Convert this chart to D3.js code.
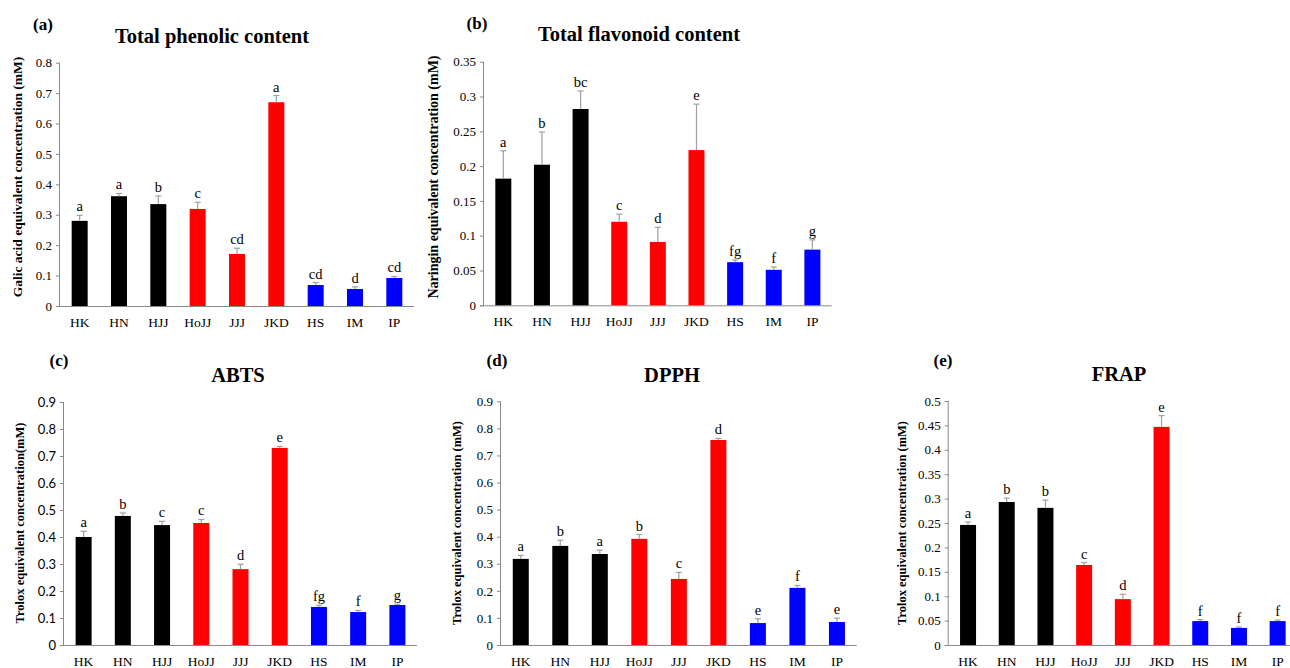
<!DOCTYPE html>
<html>
<head>
<meta charset="utf-8">
<script src="https://cdn.jsdelivr.net/npm/d3@7"></script>
<style>
  body { margin: 0; background: #fff; }
  svg text { font-family: "Liberation Serif", "Times New Roman", serif; fill: #000; }
</style>
</head>
<body>
<div id="main"></div>
<script>
// categories and bar colours
const categories = ["HK", "HN", "HJJ", "HoJJ", "JJJ", "JKD", "HS", "IM", "IP"];
const barColors = ["#000000", "#000000", "#000000", "#ff0000", "#ff0000", "#ff0000", "#0000ff", "#0000ff", "#0000ff"];

// (a) total phenolic
const phenolicMeans = [0.280, 0.361, 0.335, 0.319, 0.171, 0.670, 0.069, 0.056, 0.092];
const phenolicErr = [0.018, 0.009, 0.027, 0.022, 0.019, 0.022, 0.008, 0.007, 0.005];
const phenolicLetters = ["a", "a", "b", "c", "cd", "a", "cd", "d", "cd"];
const phenolicTicks = [0, 0.1, 0.2, 0.3, 0.4, 0.5, 0.6, 0.7, 0.8];

// (b) total flavonoid
const flavonoidMeans = [0.182, 0.202, 0.282, 0.120, 0.091, 0.223, 0.062, 0.051, 0.080];
const flavonoidErr = [0.040, 0.047, 0.026, 0.011, 0.021, 0.066, 0.003, 0.004, 0.014];
const flavonoidLetters = ["a", "b", "bc", "c", "d", "e", "fg", "f", "g"];
const flavonoidTicks = [0, 0.05, 0.1, 0.15, 0.2, 0.25, 0.3, 0.35];

// (c) ABTS
const abtsMeans = [0.400, 0.478, 0.444, 0.452, 0.281, 0.730, 0.141, 0.122, 0.148];
const abtsErr = [0.021, 0.011, 0.014, 0.013, 0.018, 0.006, 0.006, 0.006, 0.003];
const abtsLetters = ["a", "b", "c", "c", "d", "e", "fg", "f", "g"];
const abtsTicks = [0, 0.1, 0.2, 0.3, 0.4, 0.5, 0.6, 0.7, 0.8, 0.9];

// (d) DPPH
const dpphMeans = [0.318, 0.366, 0.336, 0.392, 0.244, 0.757, 0.081, 0.211, 0.085];
const dpphErr = [0.013, 0.021, 0.014, 0.016, 0.024, 0.006, 0.016, 0.009, 0.014];
const dpphLetters = ["a", "b", "a", "b", "c", "d", "e", "f", "e"];
const dpphTicks = [0, 0.1, 0.2, 0.3, 0.4, 0.5, 0.6, 0.7, 0.8, 0.9];

// (e) FRAP
const frapMeans = [0.246, 0.293, 0.281, 0.164, 0.094, 0.447, 0.049, 0.035, 0.049];
const frapErr = [0.006, 0.008, 0.016, 0.005, 0.010, 0.023, 0.003, 0.002, 0.002];
const frapLetters = ["a", "b", "b", "c", "d", "e", "f", "f", "f"];
const frapTicks = [0, 0.05, 0.1, 0.15, 0.2, 0.25, 0.3, 0.35, 0.4, 0.45, 0.5];

const serif = "'Liberation Serif', 'Times New Roman', serif";

const svg = d3.select("#main").append("svg")
    .attr("width", 1290)
    .attr("height", 668);

function drawPanel(p) {
    const g = svg.append("g");
    const x = d3.scaleBand().domain(categories).range([p.x0, p.x1]).padding(0);
    const y = d3.scaleLinear().domain([0, p.max]).range([p.y0, p.yTop]);
    const barW = 16;

    // y axis
    const yAxis = g.append("g")
        .attr("transform", `translate(${p.x0},0)`)
        .call(d3.axisLeft(y).tickValues(p.ticks).tickSize(4).tickPadding(4).tickFormat(d3.format("")));
    yAxis.select(".domain").attr("stroke", "#8a8a8a").attr("d", `M-0.5,${p.yTop}V${p.y0}`);
    yAxis.selectAll(".tick line").attr("stroke", "#8a8a8a");
    yAxis.selectAll(".tick text")
        .style("font-family", p.sansTicks ? "Lato, 'Liberation Sans', sans-serif" : serif)
        .style("font-size", "13px");

    // x axis line and labels
    const xAxis = g.append("g")
        .attr("transform", `translate(0,${p.y0})`)
        .call(d3.axisBottom(x).tickSize(0).tickPadding(11));
    xAxis.select(".domain").attr("stroke", "#8a8a8a").attr("d", `M${p.x0 - 4},0.5H${p.x1}`);
    xAxis.selectAll(".tick text").style("font-family", serif).style("font-size", "13.5px");

    // bars
    g.selectAll("rect.bar")
        .data(p.means)
        .join("rect")
        .attr("class", "bar")
        .attr("x", (d, i) => x(categories[i]) + x.bandwidth() / 2 - barW / 2)
        .attr("y", d => y(d))
        .attr("width", barW)
        .attr("height", d => p.y0 - y(d))
        .attr("fill", (d, i) => barColors[i]);

    // error bars (upper only)
    const eb = g.selectAll("g.err")
        .data(p.means)
        .join("g")
        .attr("class", "err")
        .attr("transform", (d, i) => `translate(${x(categories[i]) + x.bandwidth() / 2},0)`);
    eb.append("line")
        .attr("y1", d => y(d))
        .attr("y2", (d, i) => y(d + p.err[i]))
        .attr("stroke", "#a0a0a0").attr("stroke-width", 1.2);
    eb.append("line")
        .attr("x1", -3).attr("x2", 3)
        .attr("y1", (d, i) => y(d + p.err[i]))
        .attr("y2", (d, i) => y(d + p.err[i]))
        .attr("stroke", "#a0a0a0").attr("stroke-width", 1.2);

    // significance letters
    g.selectAll("text.letter")
        .data(p.means)
        .join("text")
        .attr("class", "letter")
        .attr("x", (d, i) => x(categories[i]) + x.bandwidth() / 2)
        .attr("y", (d, i) => y(d + p.err[i]) - 4)
        .attr("text-anchor", "middle")
        .style("font-size", "14.5px")
        .text((d, i) => p.letters[i]);

    // titles
    g.append("text")
        .attr("x", p.titleX).attr("y", p.titleY)
        .attr("text-anchor", "middle")
        .style("font-size", "20.5px").style("font-weight", "bold")
        .text(p.title);
    g.append("text")
        .attr("x", p.tagX).attr("y", p.tagY)
        .attr("text-anchor", "middle")
        .style("font-size", "17px").style("font-weight", "bold")
        .text(p.tag);

    // y label
    g.append("text")
        .attr("transform", `translate(${p.labX},${p.labY}) rotate(-90)`)
        .attr("text-anchor", "middle")
        .attr("dy", "0.35em")
        .style("font-family", serif)
        .style("font-size", p.labSize + "px").style("font-weight", "bold")
        .text(p.ylabel);
}

drawPanel({
    tag: "(a)", tagX: 43, tagY: 30, title: "Total phenolic content", titleX: 212, titleY: 43,
    ylabel: "Galic acid equivalent concentration (mM)", labX: 17, labY: 177, labSize: 13.5,
    x0: 60, x1: 414, y0: 306, yTop: 62.7, max: 0.8, ticks: phenolicTicks,
    means: phenolicMeans, err: phenolicErr, letters: phenolicLetters
});
drawPanel({
    tag: "(b)", tagX: 477, tagY: 29, title: "Total flavonoid content", titleX: 639, titleY: 41,
    ylabel: "Naringin equivalent concentration (mM)", labX: 433, labY: 177, labSize: 14,
    x0: 484, x1: 831.7, y0: 305.3, yTop: 61.7, max: 0.35, ticks: flavonoidTicks,
    means: flavonoidMeans, err: flavonoidErr, letters: flavonoidLetters
});
drawPanel({
    tag: "(c)", tagX: 59, tagY: 366, title: "ABTS", titleX: 238, titleY: 382,
    ylabel: "Trolox equivalent concentration(mM)", labX: 20, labY: 523, labSize: 12.5,
    x0: 64, x1: 417, y0: 645, yTop: 402, max: 0.9, ticks: abtsTicks, sansTicks: true,
    means: abtsMeans, err: abtsErr, letters: abtsLetters
});
drawPanel({
    tag: "(d)", tagX: 497, tagY: 366, title: "DPPH", titleX: 672, titleY: 382,
    ylabel: "Trolox equivalent concentration (mM)", labX: 457, labY: 523, labSize: 12.5,
    x0: 501, x1: 856.7, y0: 645, yTop: 401.3, max: 0.9, ticks: dpphTicks,
    means: dpphMeans, err: dpphErr, letters: dpphLetters
});
drawPanel({
    tag: "(e)", tagX: 943, tagY: 366, title: "FRAP", titleX: 1119, titleY: 381,
    ylabel: "Trolox equivalent concentration (mM)", labX: 902, labY: 523, labSize: 12.5,
    x0: 948.7, x1: 1297, y0: 645, yTop: 401, max: 0.5, ticks: frapTicks,
    means: frapMeans, err: frapErr, letters: frapLetters
});
</script>
</body>
</html>
